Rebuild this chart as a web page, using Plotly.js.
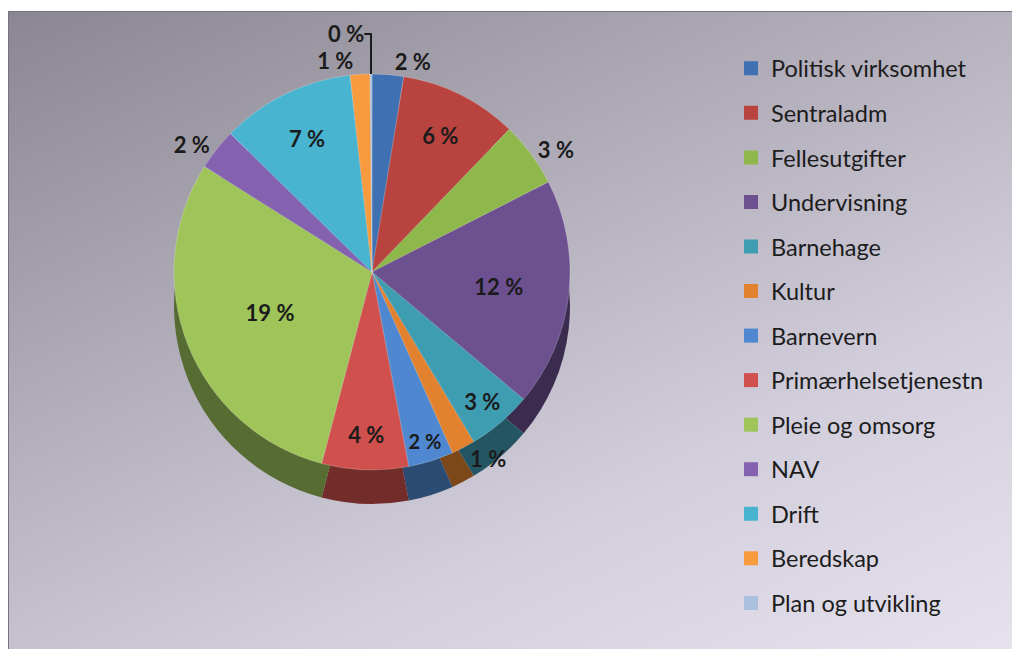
<!DOCTYPE html>
<html><head><meta charset="utf-8">
<script src="https://cdn.plot.ly/plotly-3.0.1.min.js"></script>
<style>
html,body{margin:0;padding:0;background:#fff;width:1012px;height:649px;overflow:hidden}
#frame{position:absolute;left:8px;top:11px;width:1004px;height:638px;
 background:linear-gradient(155deg,#8b8792 0%,#aeaab6 35%,#d2cedb 70%,#e5e1ed 100%);
 border-left:1px solid #77737d;border-top:1px solid #77737d;box-sizing:border-box}
#chart{position:absolute;left:0;top:0;width:1012px;height:649px}
</style></head><body>
<div id="frame"></div><div id="chart"></div>
<script>
// Categories (legend order, clockwise from 12 o'clock)
const categories = ["Politisk virksomhet","Sentraladm","Fellesutgifter","Undervisning","Barnehage","Kultur","Barnevern","Primærhelsetjenestn","Pleie og omsorg","NAV","Drift","Beredskap","Plan og utvikling"];
// Share in percent (labels are rounded)
const values = [1.6, 6.0, 3.3, 11.6, 3.3, 1.2, 2.3, 4.4, 18.6, 2.1, 6.8, 1.0, 0.1];
const colors = ["#3e70b2","#b8433f","#8fb84c","#6c5090","#3f9db2","#e2822f","#4f88d0","#d0504d","#9fc45a","#8462b0","#49b4cf","#f89b3f","#a9c0de"];
const labelPositions = ["outside","inside","outside","inside","inside","outside","inside","inside","inside","outside","inside","outside","outside"];
const labelTexts = values.map(v => Math.round(v) + " %");

function shade(hex, f){
  const n = parseInt(hex.slice(1),16);
  const r = Math.round(((n>>16)&255)*f), g = Math.round(((n>>8)&255)*f), b = Math.round((n&255)*f);
  return "rgb("+r+","+g+","+b+")";
}
const W = 1012, H = 649;
const cx = 372, cy = 272, R = 198, depth = 34;
function dom(yOff){
  return {x:[(cx-R)/W,(cx+R)/W], y:[1-(cy+yOff+R)/H, 1-(cy+yOff-R)/H]};
}
const font = {family:"Lato, 'Open Sans', sans-serif", size:22, color:"#1b1b1b", weight:"bold"};

const wallPie = {type:"pie", labels:categories, values:values, sort:false, direction:"clockwise", rotation:0,
  marker:{colors:colors.map(c=>shade(c,0.55)), line:{width:0}}, textinfo:"none", hoverinfo:"skip",
  showlegend:false, domain:dom(depth)};
const topPie = {type:"pie", labels:categories, values:values, sort:false, direction:"clockwise", rotation:0,
  marker:{colors:colors, line:{width:0.6, color:"rgba(255,255,255,0.35)"}},
  text:labelTexts, textinfo:"text", textposition:labelPositions, insidetextorientation:"horizontal",
  insidetextfont:font, outsidetextfont:font, showlegend:false, domain:dom(0), automargin:false};
const legendTraces = categories.map((c,i)=>({type:"scatter", x:[null], y:[null], mode:"markers", name:c,
  legendgroup:"g"+i, marker:{symbol:"square", size:14, color:colors[i]}, hoverinfo:"skip"}));

const layout = {width:W, height:H, margin:{l:0,r:0,t:0,b:0},
  paper_bgcolor:"rgba(0,0,0,0)", plot_bgcolor:"rgba(0,0,0,0)",
  xaxis:{visible:false}, yaxis:{visible:false},
  showlegend:true,
  legend:{x:731/W, xanchor:"left", y:1-46.5/H, yanchor:"top", bgcolor:"rgba(0,0,0,0)",
    font:{family:"Lato, 'Open Sans', sans-serif", size:23.5, color:"#1c1c1c"},
    traceorder:"grouped", tracegroupgap:11, itemwidth:30}
};
Plotly.newPlot("chart", [wallPie, topPie].concat(legendTraces), layout, {staticPlot:true});
</script>
</body></html>
